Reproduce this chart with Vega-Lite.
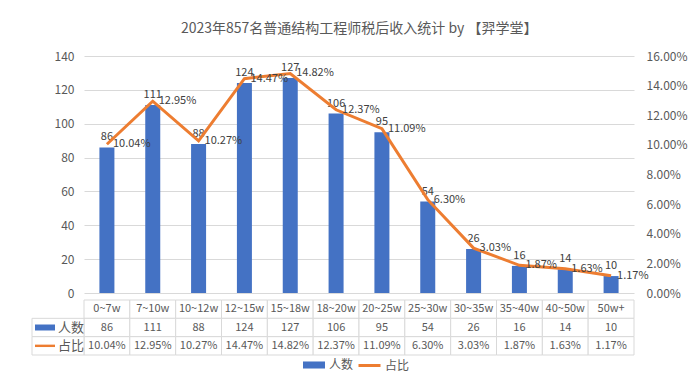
{
  "$schema": "https://vega.github.io/schema/vega-lite/v6.json",
  "padding": {"left": 31, "top": 22, "right": 8, "bottom": 8},
  "title": {"text": "2023年857名普通结构工程师税后收入统计 by 【羿学堂】", "fontSize": 14, "fontWeight": "normal", "color": "#595959", "anchor": "middle", "offset": 14},
  "datasets": {
    "main": [
      {"cat": "0~7w", "count": 86, "pct": 0.1004},
      {"cat": "7~10w", "count": 111, "pct": 0.1295},
      {"cat": "10~12w", "count": 88, "pct": 0.1027},
      {"cat": "12~15w", "count": 124, "pct": 0.1447},
      {"cat": "15~18w", "count": 127, "pct": 0.1482},
      {"cat": "18~20w", "count": 106, "pct": 0.1237},
      {"cat": "20~25w", "count": 95, "pct": 0.1109},
      {"cat": "25~30w", "count": 54, "pct": 0.063},
      {"cat": "30~35w", "count": 26, "pct": 0.0303},
      {"cat": "35~40w", "count": 16, "pct": 0.0187},
      {"cat": "40~50w", "count": 14, "pct": 0.0163},
      {"cat": "50w+", "count": 10, "pct": 0.0117}
    ],
    "labels": [
      {"key": "count", "label": "人数"},
      {"key": "pct", "label": "占比"}
    ]
  },
  "spacing": 0,
  "vconcat": [
    {
      "width": 550,
      "height": 237,
      "data": {"name": "main"},
      "encoding": {
        "x": {"field": "cat", "type": "nominal", "sort": null, "axis": null, "scale": {"paddingInner": 0, "paddingOuter": 0}}
      },
      "layer": [
        {
          "encoding": {
            "y": {"field": "count", "type": "quantitative", "scale": {"domain": [0, 140]},
              "axis": {"orient": "left", "title": null, "values": [0, 20, 40, 60, 80, 100, 120, 140], "domain": false, "ticks": false, "labelPadding": 10, "grid": true, "gridColor": "#D9D9D9", "labelColor": "#595959", "labelFontSize": 12}}
          },
          "layer": [
            {
              "mark": {"type": "bar", "size": 15},
              "encoding": {
                "color": {"datum": "人数", "type": "nominal", "scale": {"range": ["#4472C4"]},
                  "legend": {"orient": "none", "legendX": 218, "legendY": 297, "direction": "horizontal", "title": null, "symbolType": "M-1,-0.32H1V0.32H-1Z", "symbolSize": 484, "labelFontSize": 12, "labelOffset": 3, "labelColor": "#595959"}}
              }
            },
            {
              "mark": {"type": "text", "baseline": "alphabetic", "dy": -7, "fontSize": 11, "color": "#404040"},
              "encoding": {"text": {"field": "count", "type": "quantitative"}}
            }
          ]
        },
        {
          "encoding": {
            "y": {"field": "pct", "type": "quantitative", "scale": {"domain": [0, 0.16]},
              "axis": {"orient": "right", "title": null, "format": ".2%", "values": [0, 0.02, 0.04, 0.06, 0.08, 0.1, 0.12, 0.14, 0.16], "domain": false, "ticks": false, "grid": false, "labelPadding": 12, "labelColor": "#595959", "labelFontSize": 12}}
          },
          "layer": [
            {
              "mark": {"type": "line", "strokeWidth": 3},
              "encoding": {
                "stroke": {"datum": "占比", "type": "nominal", "scale": {"range": ["#ED7D31"]},
                  "legend": {"orient": "none", "legendX": 273, "legendY": 297, "direction": "horizontal", "title": null, "symbolType": "stroke", "symbolStrokeWidth": 3, "symbolSize": 484, "labelFontSize": 12, "labelOffset": 3, "labelColor": "#595959"}}
              }
            },
            {
              "mark": {"type": "text", "align": "left", "baseline": "middle", "dx": 6, "fontSize": 11, "color": "#404040"},
              "encoding": {"text": {"field": "pct", "type": "quantitative", "format": ".2%"}}
            }
          ]
        }
      ],
      "resolve": {"scale": {"y": "independent"}}
    },
    {
      "width": 550,
      "height": 55,
      "layer": [
        {
          "data": {"name": "main"},
          "transform": [{"fold": ["cat", "count", "pct"]}],
          "mark": {"type": "rect", "fill": "white", "stroke": "#D9D9D9", "strokeWidth": 1},
          "encoding": {
            "x": {"field": "cat", "type": "nominal", "sort": null, "axis": null, "scale": {"paddingInner": 0, "paddingOuter": 0}},
            "y": {"field": "key", "type": "nominal", "axis": null, "scale": {"domain": ["cat", "count", "pct"], "paddingInner": 0, "paddingOuter": 0}}
          }
        },
        {
          "data": {"name": "main"},
          "mark": {"type": "text", "fontSize": 11, "color": "#595959"},
          "encoding": {
            "x": {"field": "cat", "type": "nominal", "sort": null, "axis": null, "scale": {"paddingInner": 0, "paddingOuter": 0}},
            "y": {"datum": "cat", "type": "nominal", "axis": null, "scale": {"domain": ["cat", "count", "pct"]}},
            "text": {"field": "cat", "type": "nominal"}
          }
        },
        {
          "data": {"name": "main"},
          "mark": {"type": "text", "fontSize": 11, "color": "#595959"},
          "encoding": {
            "x": {"field": "cat", "type": "nominal", "sort": null, "axis": null, "scale": {"paddingInner": 0, "paddingOuter": 0}},
            "y": {"datum": "count", "type": "nominal", "axis": null, "scale": {"domain": ["cat", "count", "pct"]}},
            "text": {"field": "count", "type": "quantitative"}
          }
        },
        {
          "data": {"name": "main"},
          "mark": {"type": "text", "fontSize": 11, "color": "#595959"},
          "encoding": {
            "x": {"field": "cat", "type": "nominal", "sort": null, "axis": null, "scale": {"paddingInner": 0, "paddingOuter": 0}},
            "y": {"datum": "pct", "type": "nominal", "axis": null, "scale": {"domain": ["cat", "count", "pct"]}},
            "text": {"field": "pct", "type": "quantitative", "format": ".2%"}
          }
        },
        {
          "data": {"name": "labels"},
          "mark": {"type": "rect", "fill": "white", "stroke": "#D9D9D9", "strokeWidth": 1},
          "encoding": {
            "x": {"datum": "L", "type": "nominal", "axis": null, "scale": {"domain": ["L"], "range": [-52, 0], "paddingInner": 0, "paddingOuter": 0}},
            "y": {"field": "key", "type": "nominal", "axis": null, "scale": {"domain": ["cat", "count", "pct"]}}
          }
        },
        {
          "data": {"name": "labels"},
          "mark": {"type": "text", "fontSize": 13, "color": "#595959"},
          "encoding": {
            "x": {"datum": "label", "type": "nominal", "axis": null, "scale": {"domain": ["swatch", "label"], "range": [-52, 0], "paddingInner": 0, "paddingOuter": 0}},
            "y": {"field": "key", "type": "nominal", "axis": null, "scale": {"domain": ["cat", "count", "pct"]}},
            "text": {"field": "label", "type": "nominal"}
          }
        },
        {
          "data": {"name": "labels"},
          "transform": [{"filter": "datum.key == 'count'"}],
          "mark": {"type": "point", "shape": "M-1,-0.3H1V0.3H-1Z", "size": 400, "filled": true, "opacity": 1, "color": "#4472C4"},
          "encoding": {
            "x": {"datum": "swatch", "type": "nominal", "axis": null, "scale": {"domain": ["swatch", "label"], "range": [-52, 0], "paddingInner": 0, "paddingOuter": 0}},
            "y": {"field": "key", "type": "nominal", "axis": null, "scale": {"domain": ["cat", "count", "pct"]}}
          }
        },
        {
          "data": {"name": "labels"},
          "transform": [{"filter": "datum.key == 'pct'"}],
          "mark": {"type": "point", "shape": "M-1,-0.12H1V0.12H-1Z", "size": 400, "filled": true, "opacity": 1, "color": "#ED7D31"},
          "encoding": {
            "x": {"datum": "swatch", "type": "nominal", "axis": null, "scale": {"domain": ["swatch", "label"], "range": [-52, 0], "paddingInner": 0, "paddingOuter": 0}},
            "y": {"field": "key", "type": "nominal", "axis": null, "scale": {"domain": ["cat", "count", "pct"]}}
          }
        }
      ],
      "resolve": {"scale": {"x": "independent"}}
    }
  ],
  "config": {
    "font": "Noto Sans CJK SC",
    "view": {"stroke": null},
    "background": "white"
  }
}
